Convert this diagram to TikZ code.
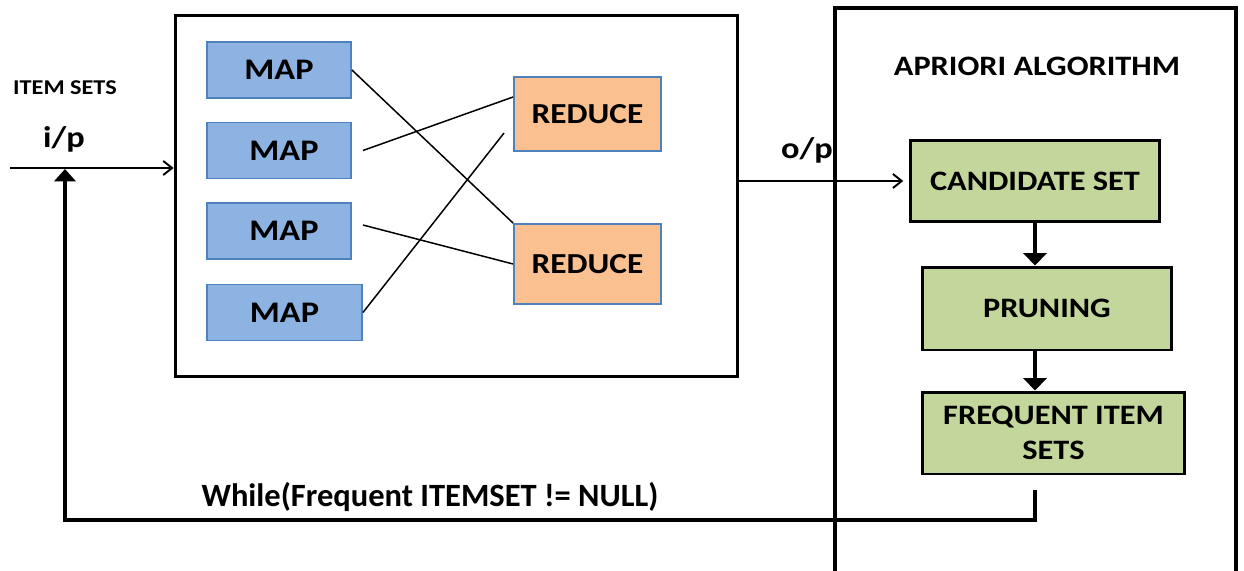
\documentclass[tikz,border=0pt]{standalone}
\usepackage{fontspec}
\setmainfont{Carlito}
\newfontfamily\widefont[FakeStretch=1.15]{Carlito}
\usetikzlibrary{arrows.meta}
\definecolor{mapblue}{HTML}{8DB3E2}
\definecolor{mapedge}{HTML}{4F81BD}
\definecolor{redorange}{HTML}{FAC090}
\definecolor{aprgreen}{HTML}{C3D69B}
\tikzset{
  mapbox/.style={draw=mapedge,fill=mapblue,line width=1.1pt,inner sep=0pt,
    minimum width=2.88cm,minimum height=1.12cm,font=\widefont\bfseries\fontsize{17}{17}\selectfont},
  redbox/.style={mapbox,fill=redorange,minimum width=2.94cm,font=\widefont\bfseries\fontsize{16.5}{16.5}\selectfont},
  aprbox/.style={draw=black,fill=aprgreen,line width=1.7pt,inner sep=0pt,align=center,
    minimum width=5cm,minimum height=1.64cm,font=\widefont\bfseries\fontsize{16}{20}\selectfont},
  crossline/.style={line width=0.85pt},
  thinarrow/.style={line width=1.1pt,-{Straight Barb[length=5pt,width=8pt]}},
  fatarrow/.style={line width=2.8pt,-{Triangle[length=7pt,width=13pt]}},
  lbl/.style={font=\widefont\bfseries\fontsize{#1}{#1}\selectfont,inner sep=0pt}
}
\begin{document}
\begin{tikzpicture}[x=0.02cm,y=-0.02cm]
\useasboundingbox (0,0) rectangle (1244,571);
\node[draw,line width=1.7pt,minimum width=11.26cm,minimum height=7.24cm,inner sep=0pt] (mr) at (456.5,196) {};
\node[mapbox] (map1) at (279,70) {MAP};
\node[mapbox] (map2) at (279,150.5) {\hspace*{0.2cm}MAP};
\node[mapbox] (map3) at (279,231) {\hspace*{0.2cm}MAP};
\node[mapbox,minimum width=3.1cm] (map4) at (284.5,312.5) {MAP};
\node[redbox,minimum height=1.48cm] (red1) at (587.5,114) {REDUCE};
\node[redbox,minimum height=1.6cm] (red2) at (587.5,264) {REDUCE};
\draw[crossline] (map1.east) -- (red2.north west);
\draw[crossline] ([xshift=0.22cm]map2.east) -- ([yshift=0.34cm]red1.west);
\draw[crossline] ([xshift=0.22cm,yshift=0.12cm]map3.east) -- (red2.west);
\draw[crossline] (map4.east) -- ([xshift=-0.18cm,yshift=-0.38cm]red1.west);
\draw[line width=2.3pt] (835,571) -- (835,8) -- (1236,8) -- (1236,571);
\node[lbl=16] (aprtitle) at (1037,66) {APRIORI ALGORITHM};
\node[aprbox] (cand) at (1035,181) {CANDIDATE SET};
\node[aprbox,minimum height=1.66cm] (prun) at (1047,308.5) {PRUNING};
\node[aprbox,minimum width=5.26cm] (freq) at (1053.5,433) {FREQUENT ITEM\\SETS};
\draw[fatarrow] (cand.south) -- (cand.south |- prun.north);
\draw[fatarrow] (cand.south |- prun.south) -- (cand.south |- freq.north);
\coordinate (inp) at (10,168);
\draw[thinarrow] (inp) -- (inp -| mr.west);
\draw[thinarrow,shorten >=3pt] (mr.east |- cand.west) -- (cand.west);
\node[lbl=12] (itemsets) at (65,88) {ITEM SETS};
\node[lbl=17] (ip) at (64,139) {i/p};
\node[lbl=17] (op) at (807,150) {o/p};
\coordinate (loopbase) at (1035,490);
\coordinate (loopcorner) at (1035,520);
\coordinate (looptip) at (65,169);
\draw[line width=2.3pt,-{Triangle[length=7pt,width=12pt]}] (loopbase) -- (loopcorner) -| (looptip);
\node[font=\bfseries\fontsize{18.5}{18.5}\selectfont,inner sep=0pt] (cond) at (430,497) {While(Frequent ITEMSET != NULL)};
\end{tikzpicture}
\end{document}
